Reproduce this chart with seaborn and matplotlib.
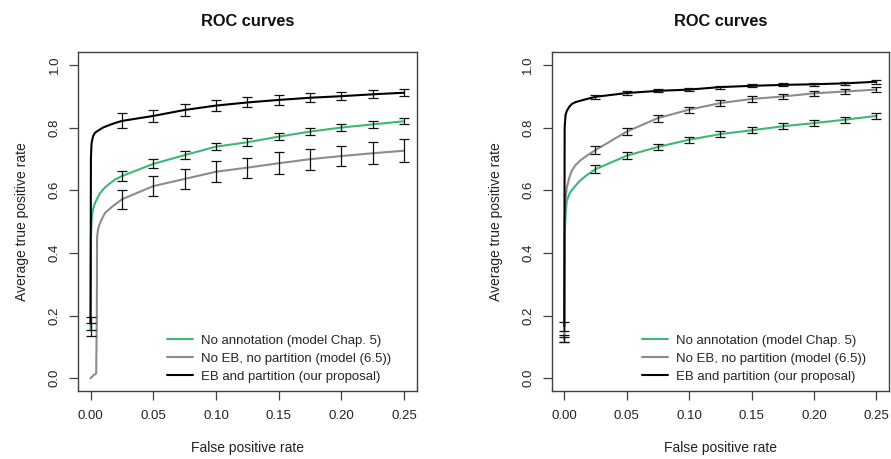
import numpy as np
import pandas as pd
import matplotlib
matplotlib.use("Agg")
import matplotlib.pyplot as plt
import seaborn as sns

# ---------------- data ----------------
methods = ["No annotation (model Chap. 5)",
           "No EB, no partition (model (6.5))",
           "EB and partition (our proposal)"]
colors = ["#3DB874", "#8C8C8C", "#000000"]

grid = [0.025, 0.05, 0.075, 0.10, 0.125, 0.15, 0.175, 0.20, 0.225, 0.25]
bar_x = [0.0] + grid
bar_x_nozero = grid

# Left panel curves
L_green_fpr = [0.0, 0.0003, 0.001, 0.002, 0.0035, 0.0055, 0.0075, 0.011, 0.0155, 0.020] + grid
L_green_tpr = [0.155, 0.45, 0.515, 0.540, 0.558, 0.575, 0.590, 0.607, 0.622, 0.635,
               0.645, 0.684, 0.712, 0.739, 0.753, 0.771, 0.787, 0.800, 0.810, 0.820]
L_green_err = [0.020, 0.015, 0.014, 0.012, 0.012, 0.012, 0.011, 0.011, 0.010, 0.010, 0.010]

L_gray_fpr = [0.0, 0.0025, 0.0045, 0.0050, 0.0052, 0.0060, 0.0072, 0.0087, 0.0114, 0.018] + grid
L_gray_tpr = [0.0, 0.010, 0.015, 0.20, 0.45, 0.475, 0.492, 0.505, 0.527, 0.550,
              0.571, 0.613, 0.636, 0.659, 0.672, 0.686, 0.699, 0.709, 0.718, 0.726]
L_gray_err = [0.030, 0.032, 0.033, 0.033, 0.032, 0.035, 0.034, 0.033, 0.035, 0.036]

L_black_fpr = [0.0, 0.0003, 0.0008, 0.002, 0.0035, 0.006, 0.010, 0.015, 0.020] + grid
L_black_tpr = [0.175, 0.70, 0.750, 0.772, 0.783, 0.790, 0.800, 0.808, 0.815,
               0.821, 0.837, 0.856, 0.870, 0.880, 0.888, 0.895, 0.900, 0.906, 0.911]
L_black_err = [0.021, 0.024, 0.020, 0.019, 0.017, 0.016, 0.015, 0.014, 0.013, 0.013, 0.012]

# Right panel curves
R_green_fpr = [0.0, 0.0003, 0.001, 0.002, 0.0045, 0.008, 0.0125, 0.018] + grid
R_green_tpr = [0.125, 0.45, 0.520, 0.566, 0.592, 0.610, 0.630, 0.648,
               0.667, 0.710, 0.738, 0.761, 0.779, 0.791, 0.804, 0.814, 0.825, 0.837]
R_green_err = [0.008, 0.012, 0.011, 0.011, 0.010, 0.010, 0.010, 0.010, 0.010, 0.010, 0.010]

R_gray_fpr = [0.0, 0.0003, 0.001, 0.002, 0.004, 0.006, 0.009, 0.0125, 0.018] + grid
R_gray_tpr = [0.128, 0.50, 0.570, 0.608, 0.640, 0.662, 0.680, 0.694, 0.710,
              0.728, 0.787, 0.830, 0.857, 0.878, 0.891, 0.899, 0.909, 0.915, 0.921]
R_gray_err = [0.011, 0.012, 0.012, 0.011, 0.010, 0.010, 0.010, 0.009, 0.009, 0.008, 0.008]

R_black_fpr = [0.0, 0.0003, 0.001, 0.002, 0.004, 0.006, 0.009, 0.0125, 0.018] + grid
R_black_tpr = [0.166, 0.80, 0.840, 0.853, 0.866, 0.875, 0.881, 0.885, 0.891,
               0.898, 0.910, 0.917, 0.921, 0.929, 0.933, 0.936, 0.938, 0.941, 0.946]
R_black_err = [0.015, 0.006, 0.006, 0.005, 0.005, 0.005, 0.005, 0.005, 0.005, 0.005, 0.006]

x_ticks = [0.00, 0.05, 0.10, 0.15, 0.20, 0.25]
x_ticklabels = ["0.00", "0.05", "0.10", "0.15", "0.20", "0.25"]
y_ticks = [0.0, 0.2, 0.4, 0.6, 0.8, 1.0]
y_ticklabels = ["0.0", "0.2", "0.4", "0.6", "0.8", "1.0"]

title = "ROC curves"
xlabel = "False positive rate"
ylabel = "Average true positive rate"

# ---------------- style ----------------
sns.set_style("white")
plt.rcParams["font.family"] = ["Liberation Sans", "DejaVu Sans"]
frame_col = "#404040"

fig = plt.figure(figsize=(8.91, 4.59), dpi=100)
W, H = 891, 459
ax_l = fig.add_axes([78 / W, (H - 390.8) / H, 338.7 / W, 338.5 / H])
ax_r = fig.add_axes([551.8 / W, (H - 390.8) / H, 337.0 / W, 338.5 / H])


def curve_df(fpr, tpr, name):
    return pd.DataFrame({"fpr": fpr, "tpr": tpr, "method": name})


panels = [
    (ax_l,
     [(L_green_fpr, L_green_tpr, L_green_err, bar_x),
      (L_gray_fpr, L_gray_tpr, L_gray_err, bar_x_nozero),
      (L_black_fpr, L_black_tpr, L_black_err, bar_x)],
     166.7),
    (ax_r,
     [(R_green_fpr, R_green_tpr, R_green_err, bar_x),
      (R_gray_fpr, R_gray_tpr, R_gray_err, bar_x),
      (R_black_fpr, R_black_tpr, R_black_err, bar_x)],
     641.7),
]

for ax, series, leg_x in panels:
    df = pd.concat([curve_df(f, t, m) for (f, t, e, bx), m in zip(series, methods)],
                   ignore_index=True)
    sns.lineplot(data=df, x="fpr", y="tpr", hue="method", hue_order=methods,
                 palette=colors, estimator=None, sort=False, lw=1.5, ax=ax,
                 legend=True)
    for (f, t, e, bx), m in zip(series, methods):
        lookup = dict(zip(f, t))
        yv = [t[0] if x == 0.0 else lookup[x] for x in bx]
        ax.errorbar(bx, yv, yerr=e, fmt="none", ecolor="#111111",
                    elinewidth=0.9, capsize=3.8, capthick=0.9, zorder=3)

    ax.set_xlim(-0.01, 0.26)
    ax.set_ylim(-0.04, 1.04)
    ax.set_xticks(x_ticks)
    ax.set_xticklabels(x_ticklabels)
    ax.set_yticks(y_ticks)
    ax.set_yticklabels(y_ticklabels, rotation=90, va="center")
    ax.tick_params(axis="both", which="major", direction="out", length=6.5,
                   width=0.9, color=frame_col, labelsize=9.5, labelcolor="#222222",
                   bottom=True, left=True)
    ax.tick_params(axis="x", pad=7)
    ax.tick_params(axis="y", pad=6)
    for sp in ax.spines.values():
        sp.set_visible(True)
        sp.set_color(frame_col)
        sp.set_linewidth(1.0)
    ax.set_title(title, fontsize=11.8, fontweight="bold", pad=19, color="#111111")
    ax.set_xlabel(xlabel, fontsize=10, labelpad=14, color="#222222")
    ax.set_ylabel(ylabel, fontsize=10, labelpad=14, color="#222222")
    ax.grid(False)

    handles, labels = ax.get_legend_handles_labels()
    ax.legend(handles, labels, frameon=False, fontsize=9.5,
              loc="upper left", bbox_to_anchor=(leg_x / W, 1 - 334.5 / H),
              bbox_transform=fig.transFigure, borderpad=0, borderaxespad=0,
              handlelength=2.0, handletextpad=0.6, labelspacing=0.45)

fig.savefig("out.png", dpi=100)
